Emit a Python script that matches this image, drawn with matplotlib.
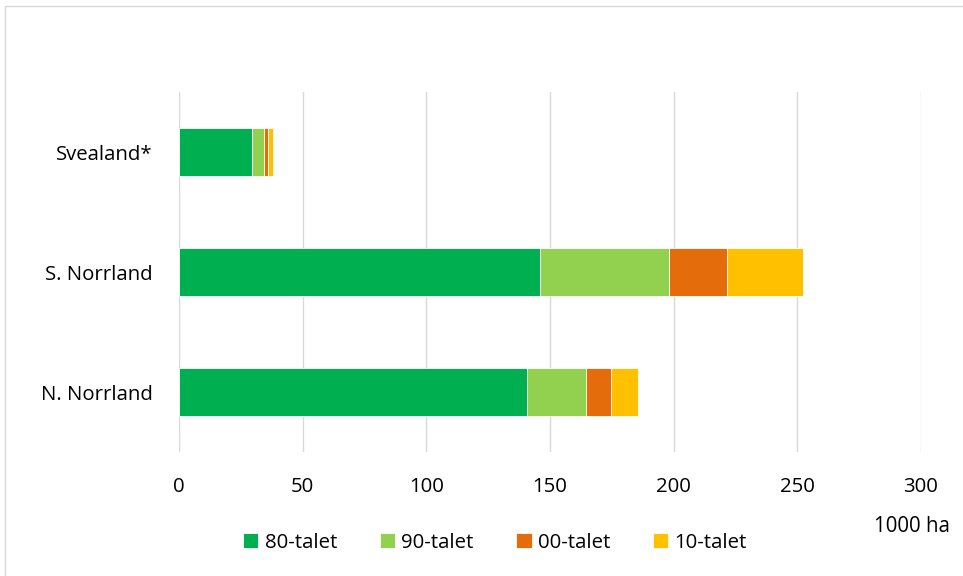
import matplotlib.pyplot as plt
import numpy as np

plt.rcParams['font.family'] = ['Open Sans', 'DejaVu Sans']

regions = ['N. Norrland', 'S. Norrland', 'Svealand*']
series = ['80-talet', '90-talet', '00-talet', '10-talet']
v80 = [140.7, 146.0, 29.5]
v90 = [23.9, 52.0, 4.8]
v00 = [10.1, 23.6, 1.7]
v10 = [10.9, 30.7, 2.0]
colors = ['#00b050', '#92d050', '#e46c0a', '#ffc000']

fig = plt.figure(figsize=(9.63, 5.76), dpi=100)
ax = fig.add_axes([179/963, 124/576, 742/963, 360/576])

y = np.arange(len(regions))
left = np.zeros(len(regions))
for vals, name, c in zip([v80, v90, v00, v10], series, colors):
    ax.barh(y, vals, left=left, height=0.4, color=c, label=name,
            edgecolor='white', linewidth=0.6, zorder=3)
    left += np.array(vals)

ax.set_xlim(0, 300)
ax.set_ylim(-0.5, 2.5)
ax.set_xticks(np.arange(0, 301, 50))
ax.set_yticks(y)
ax.set_yticklabels(regions)
ax.tick_params(length=0, labelsize=14.7, colors='#000000')
ax.tick_params(axis='x', pad=18)
ax.tick_params(axis='y', pad=19)
ax.grid(axis='x', color='#d9d9d9', linewidth=1, zorder=0)
for s in ax.spines.values():
    s.set_visible(False)

fig.text(912/963, 1 - 527/576, '1000 ha', ha='center', va='center', fontsize=14.8)

fig.legend(loc='center', bbox_to_anchor=(495/963, 1 - 543/576), ncol=4,
           frameon=False, fontsize=14.7, handlelength=0.75, handleheight=0.75,
           handletextpad=0.3, columnspacing=2.1)

# outer border
fig.patches.append(plt.Rectangle((5/963, -0.01), 1.0, 1 - 6/576 + 0.01,
                                 transform=fig.transFigure, fill=False,
                                 edgecolor='#d9d9d9', linewidth=1))

fig.savefig('out.png', dpi=100)
